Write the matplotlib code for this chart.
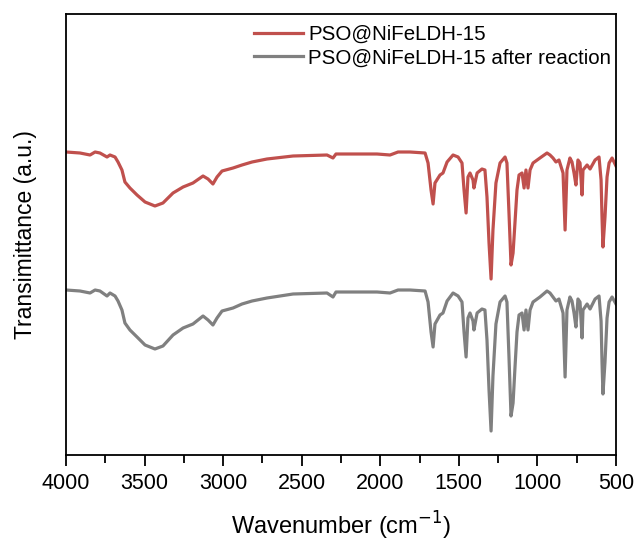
import matplotlib
matplotlib.use("Agg")
import matplotlib.pyplot as plt
from matplotlib.ticker import MultipleLocator

plt.rcParams['font.family'] = ['Liberation Sans', 'DejaVu Sans']

wavenumber = [4000, 3911, 3847, 3815, 3784, 3739, 3720, 3688, 3669, 3644, 3625, 3593,
              3548, 3497, 3434, 3383, 3319, 3255, 3192, 3128, 3096, 3065, 3039, 3007,
              2937, 2880, 2816, 2721, 2555, 2339, 2301, 2282, 2237, 2021, 1938, 1887,
              1811, 1715, 1696, 1677, 1664, 1652, 1620, 1601, 1575, 1537, 1505, 1480,
              1467, 1454, 1442, 1429, 1410, 1404, 1384, 1353, 1334, 1321, 1308, 1295,
              1283, 1264, 1238, 1206, 1194, 1181, 1168, 1155, 1143, 1130, 1117, 1098,
              1085, 1073, 1060, 1047, 1028, 984, 939, 920, 901, 882, 863, 837,
              824, 812, 793, 780, 767, 755, 742, 729, 716, 710, 684, 665,
              633, 608, 595, 589, 583, 570, 557, 544, 525, 500]

t_fresh = [306, 305, 303, 306, 305, 301, 303, 301, 296, 288, 276, 270,
           263, 256, 252, 255, 265, 271, 275, 282, 279, 274, 281, 287,
           290, 293, 296, 299, 302, 303, 300, 304, 304, 304, 303, 306,
           306, 305, 295, 268, 254, 275, 283, 285, 296, 303, 301, 295,
           268, 245, 281, 285, 278, 270, 285, 289, 288, 261, 215, 179,
           228, 275, 295, 301, 295, 245, 193, 205, 235, 268, 283, 285,
           270, 288, 270, 288, 295, 300, 305, 303, 300, 296, 298, 285,
           228, 288, 300, 296, 285, 273, 298, 295, 263, 288, 293, 289,
           298, 301, 278, 241, 211, 241, 281, 295, 300, 292]

t_after = [168, 167, 165, 168, 167, 162, 165, 162, 157, 148, 135, 128,
           121, 113, 109, 112, 123, 130, 134, 142, 138, 133, 140, 147,
           150, 154, 157, 160, 164, 165, 161, 166, 166, 166, 165, 168,
           168, 167, 156, 126, 111, 134, 143, 145, 157, 165, 162, 156,
           126, 101, 140, 145, 137, 128, 145, 149, 148, 118, 68, 27,
           82, 134, 156, 162, 156, 101, 42, 55, 90, 126, 143, 145,
           128, 148, 128, 148, 156, 161, 167, 165, 161, 157, 159, 145,
           81, 148, 161, 157, 145, 131, 159, 156, 120, 148, 154, 149,
           159, 162, 137, 96, 64, 96, 140, 156, 161, 154]

labels = ['PSO@NiFeLDH-15', 'PSO@NiFeLDH-15 after reaction']
colors = ['#c0504d', '#808080']

fig = plt.figure(figsize=(6.37, 5.42), dpi=100)
ax = fig.add_axes([66/637, 87/542, 550/637, 441/542])

ax.plot(wavenumber, t_fresh, color=colors[0], lw=2.3, label=labels[0])
ax.plot(wavenumber, t_after, color=colors[1], lw=2.3, label=labels[1])

ax.set_xlim(4000, 500)
ax.set_ylim(3, 444)
ax.xaxis.set_major_locator(MultipleLocator(500))
ax.xaxis.set_minor_locator(MultipleLocator(250))
ax.set_yticks([])
ax.tick_params(axis='x', which='major', direction='out', length=8, width=1.3, labelsize=15.5, pad=5)
ax.tick_params(axis='x', which='minor', direction='out', length=6, width=1.3)
for s in ax.spines.values():
    s.set_linewidth(1.3)

ax.set_xlabel('Wavenumber (cm$^{-1}$)', fontsize=17, labelpad=11)
ax.set_ylabel('Transimittance (a.u.)', fontsize=16.5, labelpad=21)

ax.legend(loc='upper right', bbox_to_anchor=(0.991, 0.975), frameon=False,
          fontsize=14.8, handlelength=2.4, handletextpad=0.25, labelspacing=0.22,
          borderpad=0, borderaxespad=0)

fig.savefig('out.png', dpi=100)
